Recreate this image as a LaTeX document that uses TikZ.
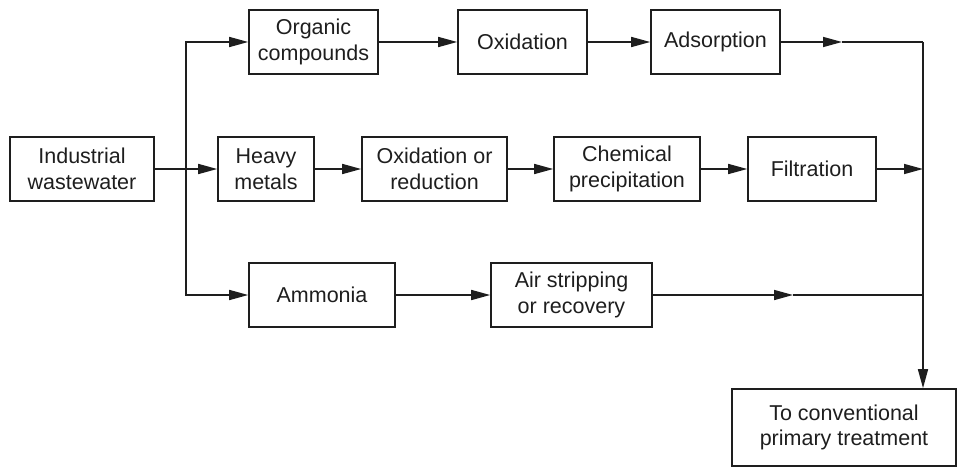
\documentclass[tikz,border=0pt]{standalone}
\usepackage{fontspec}
\setmainfont{Liberation Sans}
\usetikzlibrary{arrows.meta}
\definecolor{ink}{HTML}{1E1E1E}
\begin{document}
\begin{tikzpicture}[x=1pt,y=-1pt,
  box/.style={draw=ink,line width=1.6pt,rectangle,minimum height=64pt,inner sep=0pt,
    align=center,text=ink,font=\fontsize{21.5}{25.5}\selectfont},
  arr/.style={draw=ink,line width=1.6pt,-{Triangle[length=19pt,width=10pt]}},
  ln/.style={draw=ink,line width=1.6pt}]
\useasboundingbox (0,0) rectangle (960,468);
\node[box,minimum width=144pt] (iw) at (82,169) {Industrial\\wastewater};
\node[box,minimum width=129pt] (oc) at (313.5,42) {Organic\\compounds};
\node[box,minimum width=129pt] (ox) at (522.5,42) {Oxidation};
\node[box,minimum width=129pt] (ad) at (715.5,42) {Adsorption};
\node[box,minimum width=96pt] (hm) at (266,169) {Heavy\\metals};
\node[box,minimum width=145pt] (oxr) at (434.5,169) {Oxidation or\\reduction};
\node[box,minimum width=146pt] (cp) at (627,169) {Chemical\\precipitation};
\node[box,minimum width=128pt] (fi) at (812,169) {Filtration};
\node[box,minimum width=146pt] (am) at (322,295) {Ammonia};
\node[box,minimum width=161pt] (as) at (571.5,295) {Air stripping\\or recovery};
\node[box,minimum width=224pt,minimum height=77pt] (tc) at (844,427.5) {To conventional\\primary treatment};
\coordinate (j) at (186,169);
\coordinate (m1) at (842,42);
\coordinate (r1) at (923,42);
\coordinate (r2) at (923,169);
\coordinate (m3) at (793,295);
\coordinate (r3) at (923,295);
% left branching
\draw[arr] (iw.east) -- (hm.west);
\draw[arr] (j) |- (oc.west);
\draw[arr] (j) |- (am.west);
% top row
\draw[arr] (oc.east) -- (ox.west);
\draw[arr] (ox.east) -- (ad.west);
\draw[arr] (ad.east) -- (m1);
\draw[ln] (m1) -- (r1);
% middle row
\draw[arr] (hm.east) -- (oxr.west);
\draw[arr] (oxr.east) -- (cp.west);
\draw[arr] (cp.east) -- (fi.west);
\draw[arr] (fi.east) -- (r2);
% bottom row
\draw[arr] (am.east) -- (as.west);
\draw[arr] (as.east) -- (m3);
\draw[ln] (m3) -- (r3);
% collector
\draw[arr] (r1) -- (r1 |- tc.north);
\end{tikzpicture}
\end{document}
